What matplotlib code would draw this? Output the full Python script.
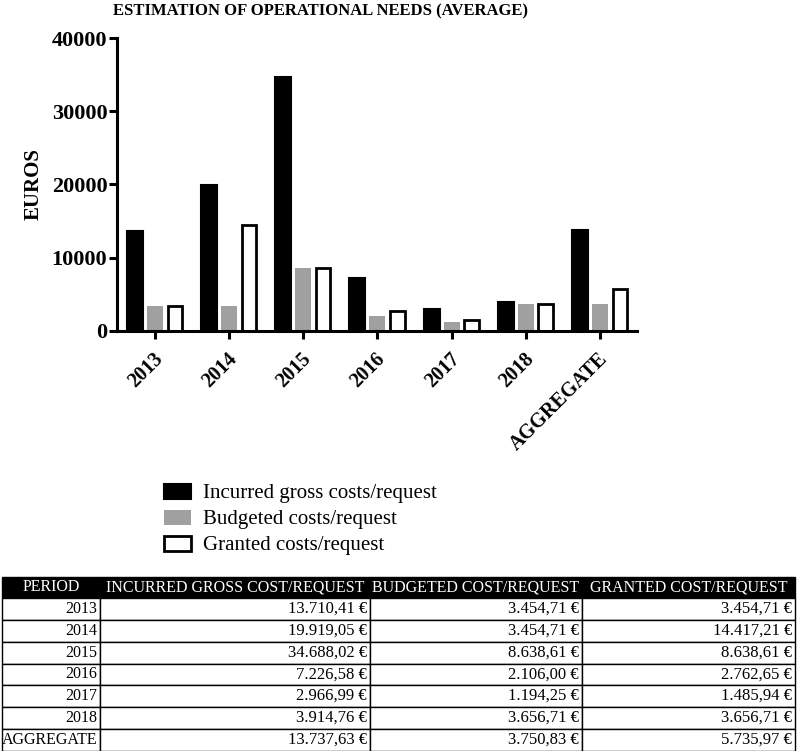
import numpy as np
import matplotlib
matplotlib.use('Agg')
import matplotlib.pyplot as plt
from matplotlib.transforms import ScaledTranslation, blended_transform_factory

plt.rcParams['font.family'] = ['Liberation Serif', 'DejaVu Serif']

# data
periods = ['2013', '2014', '2015', '2016', '2017', '2018', 'AGGREGATE']
incurred = [13710.41, 19919.05, 34688.02, 7226.58, 2966.99, 3914.76, 13737.63]
budgeted = [3454.71, 3454.71, 8638.61, 2106.00, 1194.25, 3656.71, 3750.83]
granted = [3454.71, 14417.21, 8638.61, 2762.65, 1485.94, 3656.71, 5735.97]
series_names = ['Incurred gross costs/request', 'Budgeted costs/request', 'Granted costs/request']
col_labels = ['PERIOD', 'INCURRED GROSS COST/REQUEST', 'BUDGETED COST/REQUEST', 'GRANTED COST/REQUEST']


def euro(v):
    s = f'{v:,.2f}'.replace(',', 'X').replace('.', ',').replace('X', '.')
    return s + ' \u20ac'


W, H = 797, 751
fig = plt.figure(figsize=(W / 100, H / 100), dpi=100)
ax = fig.add_axes([117 / W, 1 - 331 / H, 520 / W, 293 / H])

x = np.arange(len(periods))
bw = 0.216
off = 0.27
b1 = ax.bar(x - off, incurred, bw, color='black', edgecolor='black', linewidth=1.5)
b2 = ax.bar(x, budgeted, bw, color='#a0a0a0', linewidth=0)
b3 = ax.bar(x + off, granted, bw - 0.02, color='white', edgecolor='black', linewidth=2.0)

ax.set_xlim(-0.51, 6.5)
ax.set_ylim(0, 40000)
ax.set_yticks([0, 10000, 20000, 30000, 40000])
ax.set_xticks(x)
ax.set_xticklabels([])
# rotated category labels, anchored under each tick
tr = blended_transform_factory(ax.transData, ax.transAxes) + ScaledTranslation(5 / 100, -25 / 100, fig.dpi_scale_trans)
for i, p in enumerate(periods):
    ax.text(x[i], 0, p, transform=tr, rotation=45, ha='right', va='center', rotation_mode='anchor',
            fontsize=14.5, fontweight='bold')
for lab in ax.get_yticklabels():
    lab.set_fontsize(16)
    lab.set_fontweight('bold')
ax.tick_params(axis='both', direction='out', length=6, width=2.2)
ax.tick_params(axis='y', pad=1)
for sp in ['top', 'right']:
    ax.spines[sp].set_visible(False)
for sp in ['left', 'bottom']:
    ax.spines[sp].set_linewidth(2.2)
ax.set_ylabel('EUROS', fontsize=15, fontweight='bold', labelpad=6)

fig.text(113 / W, 1 - 3 / H, 'ESTIMATION OF OPERATIONAL NEEDS (AVERAGE)', ha='left', va='top',
         fontsize=12, fontweight='bold')

fig.legend([b1, b2, b3], series_names, loc='upper left', bbox_to_anchor=(145 / W, 1 - 465 / H),
           frameon=False, fontsize=15, handlelength=1.3, handleheight=0.72, handletextpad=0.6,
           labelspacing=0.3)

# table
tax = fig.add_axes([2 / W, 0.5 / H, 793 / W, 174 / H])
tax.axis('off')
cells = [[p, euro(a), euro(b), euro(c)] for p, a, b, c in zip(periods, incurred, budgeted, granted)]
col_px = [98, 270, 212, 213]
tbl = tax.table(cellText=cells, colLabels=col_labels, cellLoc='right', colWidths=[c / sum(col_px) for c in col_px],
                bbox=[0, 0, 1, 1])
tbl.auto_set_font_size(False)
for (r, c), cell in tbl.get_celld().items():
    cell.set_linewidth(1.0)
    cell.set_edgecolor('black')
    cell.get_text().set_fontsize(11.5 if c == 0 else 12)
    cell.PAD = 3 / col_px[c]
    if r == 0:
        cell.set_facecolor('black')
        cell.get_text().set_color('white')
        cell.get_text().set_fontsize(11.5)
        cell.get_text().set_ha('center')
        cell._loc = 'center'

fig.savefig('out.png', dpi=100)
